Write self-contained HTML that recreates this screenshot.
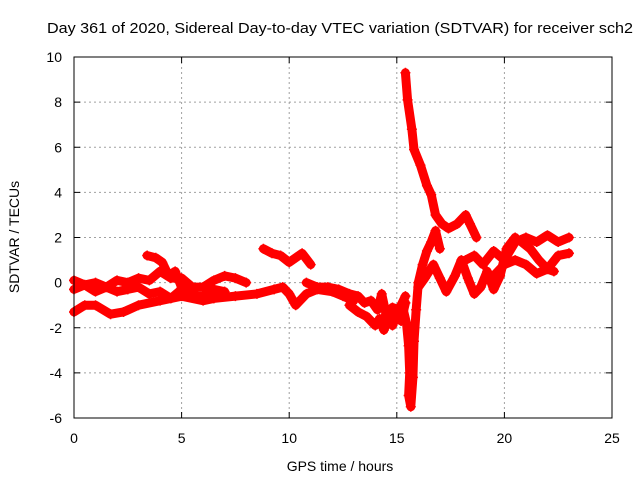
<!DOCTYPE html>
<html><head><meta charset="utf-8"><style>
body{margin:0;background:#fff;}
svg{font-family:"Liberation Sans",sans-serif;}
</style></head><body>
<svg id="chart" width="640" height="480" xmlns="http://www.w3.org/2000/svg">
<text x="340" y="33" font-size="15" text-anchor="middle" textLength="586" lengthAdjust="spacingAndGlyphs">Day 361 of 2020, Sidereal Day-to-day VTEC variation (SDTVAR) for receiver sch2</text>
<text x="340" y="471" font-size="14" text-anchor="middle">GPS time / hours</text>
<text x="19" y="237" font-size="14" text-anchor="middle" transform="rotate(-90 19 237)">SDTVAR / TECUs</text>
<g id="grid"></g><g id="ticks"></g><g id="series"></g>
<rect x="74" y="57" width="538" height="361" fill="none" stroke="#000" stroke-width="1"/>
</svg>
<script>
const xTicks=[0,5,10,15,20,25];
const yTicks=[-6,-4,-2,0,2,4,6,8,10];
const tA=[0,0.5,1,1.7,2.3,3,4,5,6,6.5,7.5,8.5,9.3,9.7,10,10.3,10.8,11.3,12,12.5,13];
const vA=[-1.3,-1.0,-1.0,-1.4,-1.3,-1.0,-0.8,-0.6,-0.8,-0.7,-0.6,-0.5,-0.3,-0.2,-0.5,-1.0,-0.5,-0.3,-0.4,-0.6,-0.8];
const tB=[0,0.5,1,1.5,2,2.5,3,3.5,4,4.5,5,5.5,6,6.5,7];
const vB=[-0.3,-0.1,-0.4,-0.2,-0.4,-0.3,-0.2,-0.5,-0.4,-0.7,-0.3,-0.6,-0.6,-0.3,-0.4];
const tC=[0,0.5,1,1.5,2,2.5,3,3.5,4,4.5,5,5.5,6,6.5,7,7.5,8];
const vC=[0.1,-0.1,0.0,-0.2,0.1,0.0,0.2,0.1,0.5,0.2,0.2,-0.2,-0.2,0.1,0.3,0.2,0.0];
const tD=[3.4,3.8,4.1,4.4,4.7,5,5.3,5.6];
const vD=[1.2,1.1,0.9,0.3,0.5,-0.2,-0.4,-0.5];
const tE=[8.8,9.2,9.6,10,10.3,10.6,11];
const vE=[1.5,1.3,1.2,0.9,1.1,1.3,0.8];
const tF=[10.8,11.3,11.8,12.3,12.8,13.2,13.5,13.8,14.1,14.3,14.5,14.8,15.1,15.4];
const vF=[0.0,-0.2,-0.2,-0.3,-0.5,-0.6,-0.9,-0.8,-1.2,-0.5,-1.4,-1.1,-1.2,-0.6];
const tG=[12.8,13.2,13.6,14,14.2,14.4,14.6,14.8,15,15.2,15.4];
const vG=[-1.0,-1.3,-1.5,-1.9,-1.6,-2.1,-1.5,-1.9,-1.4,-1.7,-0.9];
const tH=[15.3,15.45,15.55,15.6,15.55,15.65,15.75,15.8,15.9,16.0,16.2,16.4,16.6,16.8,17.0];
const vH=[-1.2,-1.8,-2.8,-4.0,-5.0,-5.5,-4.2,-2.6,-1.2,0.0,0.8,1.4,1.8,2.3,1.5];
const tK=[15.4,15.5,15.7,15.8,16.1,16.4,16.6,16.8,17.1,17.4,17.8,18.2,18.4,18.7];
const vK=[9.3,8.1,6.8,5.9,5.2,4.3,3.9,3.0,2.6,2.4,2.6,3.0,2.6,2.0];
const tM=[16.0,16.3,16.7,17.0,17.3,17.7,18.0,18.3,18.6,18.9,19.2,19.5,19.8,20.1,20.5];
const vM=[-0.2,0.2,0.8,0.2,-0.4,0.3,1.0,0.2,-0.5,-0.2,0.5,-0.3,0.3,1.5,2.0];
const tI=[18.2,18.6,19,19.5,20,20.5,21,21.5,22,22.5,23];
const vI=[1.0,1.2,0.8,1.4,1.0,1.8,2.0,1.8,2.1,1.8,2.0];
const tJ=[19.5,20,20.5,21,21.5,22,22.5,23];
const vJ=[0.3,0.8,1.0,0.8,0.4,0.6,1.2,1.3];
const tL=[20.8,21.2,21.6,22,22.3];
const vL=[1.8,1.5,1.0,0.6,0.5];
const seriesT=[tA,tB,tC,tD,tE,tF,tG,tH,tK,tM,tI,tJ,tL];
const seriesV=[vA,vB,vC,vD,vE,vF,vG,vH,vK,vM,vI,vJ,vL];

const NS="http://www.w3.org/2000/svg";
const X0=74,X1=612,Y0=418,Y1=57;
function xs(t){return X0+(t-0)/(25-0)*(X1-X0);}
function ys(v){return Y0-(v+6)/16*(Y0-Y1);}
function mk(tag,attrs,parent){const e=document.createElementNS(NS,tag);for(const k in attrs)e.setAttribute(k,attrs[k]);parent.appendChild(e);return e;}
const grid=document.getElementById('grid'),ticks=document.getElementById('ticks'),ser=document.getElementById('series');
xTicks.forEach(t=>{
  const x=xs(t);
  if(t>0&&t<25){const g=mk('line',{x1:x,x2:x,y1:Y1,y2:Y0,stroke:'#a0a0a0','stroke-dasharray':'2,3'},grid);
  
  }
  const l=mk('text',{x:x,y:Y0+25,'font-size':'14','text-anchor':'middle'},ticks);l.textContent=t;
  
  
  mk('line',{x1:x,x2:x,y1:Y0,y2:Y0-6,stroke:'#000'},ticks);
  mk('line',{x1:x,x2:x,y1:Y1,y2:Y1+6,stroke:'#000'},ticks);
});
yTicks.forEach(v=>{
  const y=ys(v);
  if(v>-6&&v<10){const g=mk('line',{x1:X0,x2:X1,y1:y,y2:y,stroke:'#a0a0a0','stroke-dasharray':'2,3'},grid);
  
  }
  const l=mk('text',{x:X0-12,y:y+5,'font-size':'14','text-anchor':'end'},ticks);l.textContent=v;
  
  
  mk('line',{x1:X0,x2:X0+6,y1:y,y2:y,stroke:'#000'},ticks);
  mk('line',{x1:X1,x2:X1-6,y1:y,y2:y,stroke:'#000'},ticks);
});
seriesT.forEach((ts,i)=>{
  const vs=seriesV[i];
  const pts=ts.map((t,j)=>xs(t)+','+ys(vs[j])).join(' ');
  const p=mk('polyline',{points:pts,fill:'none',stroke:'#ff0000','stroke-width':'9','stroke-linejoin':'round','stroke-linecap':'round'},ser);
  
  
  ts.forEach((t,j)=>{
    const x=xs(t),y=ys(vs[j]);
    const m=mk('path',{d:`M${x-5},${y}H${x+5}M${x},${y-5}V${y+5}`,stroke:'#ff0000','stroke-width':'1.5'},ser);
    
    
  });
});
</script>
</body></html>
